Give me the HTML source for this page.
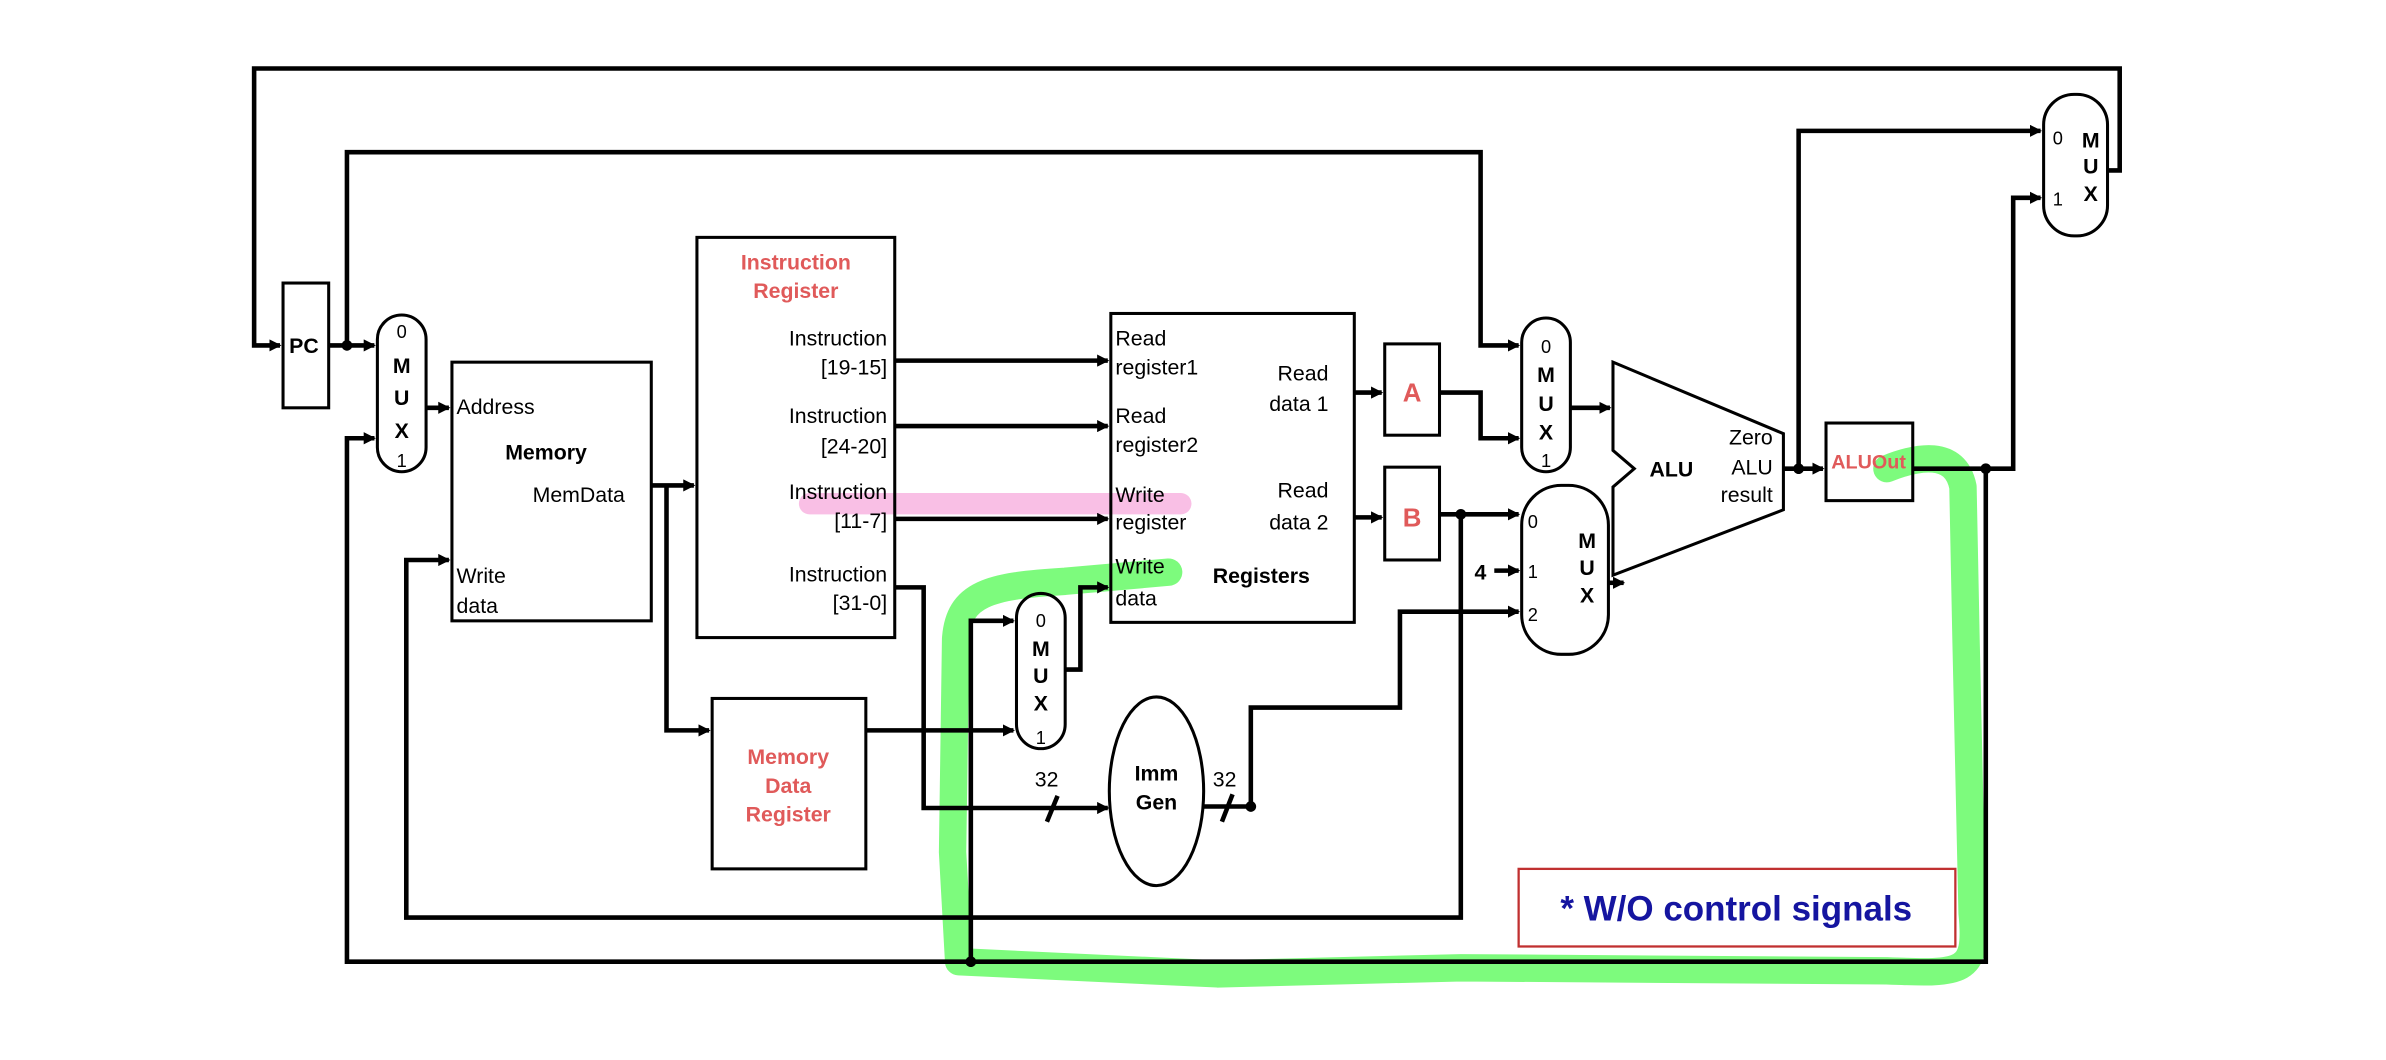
<!DOCTYPE html>
<html><head><meta charset="utf-8"><style>
html,body{margin:0;padding:0;background:#fff;}
svg{display:block}
text{font-family:"Liberation Sans",sans-serif;fill:#000}
.b{font-weight:bold}
.r{fill:#e05a5a;font-weight:bold}
</style></head><body>
<svg width="2386" height="1060" viewBox="0 0 1568 696.6" font-size="14" xmlns="http://www.w3.org/2000/svg">
<defs><marker id="a" markerWidth="8" markerHeight="8" refX="7" refY="4" orient="auto" markerUnits="userSpaceOnUse"><path d="M0,0 L8,4 L0,8z" fill="#000"/></marker></defs>
<!-- highlights -->
<path d="M532,331 L776,331" stroke="#f9bfe5" stroke-width="14" stroke-linecap="round" fill="none"/>
<path d="M1240,308 C1260,300 1285,295 1290,320 L1292,420 L1296,600 C1300,640 1290,640 1240,638 L960,636 L800,640 L630,632 L626,560 L628,420 C630,390 650,385 700,382 L768,376" stroke="#7dfb7d" stroke-width="18" stroke-linecap="round" stroke-linejoin="round" fill="none"/>
<g stroke="#000" stroke-width="3" fill="none">
<path d="M1385,112 L1393,112 L1393,45 L167,45 L167,227 L184,227" marker-end="url(#a)"/>
<rect x="186" y="186" width="30" height="82" stroke-width="2"/>
<path d="M216,227 L246,227" marker-end="url(#a)"/>
<path d="M228,227 L228,100 L973,100 L973,227 L998,227" marker-end="url(#a)"/>
<path d="M246,288 L228,288 L228,632 L1305,632 L1305,308" />
<path d="M228,288 L246,288" marker-end="url(#a)"/>
<rect x="248" y="207" width="32" height="103" rx="16" stroke-width="2"/>
<path d="M280,268 L295,268" marker-end="url(#a)"/>
<rect x="297" y="238" width="131" height="170" stroke-width="2"/>
<path d="M960,338 L960,603 L267,603 L267,368 L295,368" marker-end="url(#a)"/>
<path d="M428,319 L456,319" marker-end="url(#a)"/>
<path d="M438,319 L438,480 L466,480" marker-end="url(#a)"/>
<rect x="458" y="156" width="130" height="263" stroke-width="2"/>
<path d="M588,237 L728,237" marker-end="url(#a)"/>
<path d="M588,280 L728,280" marker-end="url(#a)"/>
<path d="M588,341 L728,341" marker-end="url(#a)"/>
<path d="M588,386 L607,386 L607,531 L728,531" marker-end="url(#a)"/>
<path d="M688,540 L695,523"/>
<rect x="468" y="459" width="101" height="112" stroke-width="2"/>
<path d="M569,480 L666,480" marker-end="url(#a)"/>
<path d="M638,632 L638,408 L666,408" marker-end="url(#a)"/>
<rect x="668" y="390" width="32" height="102" rx="16" stroke-width="2"/>
<path d="M700,440 L710,440 L710,386 L728,386" marker-end="url(#a)"/>
<rect x="730" y="206" width="160" height="203" stroke-width="2"/>
<ellipse cx="760" cy="520" rx="31" ry="62" stroke-width="2"/>
<path d="M791,530 L822,530 L822,465 L920,465 L920,402 L998,402" marker-end="url(#a)"/>
<path d="M803,540 L810,522"/>
<path d="M890,258 L908,258" marker-end="url(#a)"/>
<rect x="910" y="226" width="36" height="60" stroke-width="2"/>
<path d="M946,258 L973,258 L973,288 L998,288" marker-end="url(#a)"/>
<path d="M890,340 L908,340" marker-end="url(#a)"/>
<rect x="910" y="307" width="36" height="61" stroke-width="2"/>
<path d="M946,338 L998,338" marker-end="url(#a)"/>
<path d="M982,375 L998,375" marker-end="url(#a)"/>
<rect x="1000" y="209" width="32" height="101" rx="16" stroke-width="2"/>
<rect x="1000" y="319" width="57" height="111" rx="26" stroke-width="2"/>
<path d="M1032,268 L1058,268" marker-end="url(#a)"/>
<path d="M1057,383 L1067,383" marker-end="url(#a)"/>
<path d="M1060,238 L1172,285 L1172,335 L1060,378 L1060,320 L1074,308 L1060,296 Z" stroke-width="2"/>
<path d="M1172,308 L1198,308" marker-end="url(#a)"/>
<path d="M1182,308 L1182,86 L1341,86" marker-end="url(#a)"/>
<rect x="1200" y="278" width="57" height="51" stroke-width="2"/>
<path d="M1257,308 L1323,308 L1323,130 L1341,130" marker-end="url(#a)"/>
<rect x="1343" y="62" width="42" height="93" rx="20" stroke-width="2"/>
</g>
<g fill="#000">
<circle cx="228" cy="227" r="3.5"/><circle cx="960" cy="338" r="3.5"/><circle cx="638" cy="632" r="3.5"/>
<circle cx="822" cy="530" r="3.5"/><circle cx="1182" cy="308" r="3.5"/><circle cx="1305" cy="308" r="3.5"/>
</g>
<text x="190" y="232" class="b">PC</text>
<text x="264" y="222" text-anchor="middle" font-size="12">0</text>
<text x="264" y="245" text-anchor="middle" class="b">M</text>
<text x="264" y="266" text-anchor="middle" class="b">U</text>
<text x="264" y="288" text-anchor="middle" class="b">X</text>
<text x="264" y="307" text-anchor="middle" font-size="12">1</text>
<text x="300" y="272">Address</text>
<text x="332" y="302" class="b">Memory</text>
<text x="350" y="330">MemData</text>
<text x="300" y="383">Write</text>
<text x="300" y="403">data</text>
<text x="523" y="177" text-anchor="middle" class="r">Instruction</text>
<text x="523" y="196" text-anchor="middle" class="r">Register</text>
<g text-anchor="end">
<text x="583" y="227">Instruction</text><text x="583" y="246">[19-15]</text>
<text x="583" y="278">Instruction</text><text x="583" y="298">[24-20]</text>
<text x="583" y="328">Instruction</text><text x="583" y="347">[11-7]</text>
<text x="583" y="382">Instruction</text><text x="583" y="401">[31-0]</text>
</g>
<text x="518" y="502" text-anchor="middle" class="r">Memory</text>
<text x="518" y="521" text-anchor="middle" class="r">Data</text>
<text x="518" y="540" text-anchor="middle" class="r">Register</text>
<text x="684" y="412" text-anchor="middle" font-size="12">0</text>
<text x="684" y="431" text-anchor="middle" class="b">M</text>
<text x="684" y="449" text-anchor="middle" class="b">U</text>
<text x="684" y="467" text-anchor="middle" class="b">X</text>
<text x="684" y="489" text-anchor="middle" font-size="12">1</text>
<text x="680" y="517">32</text>
<text x="797" y="517">32</text>
<text x="760" y="513" text-anchor="middle" class="b">Imm</text>
<text x="760" y="532" text-anchor="middle" class="b">Gen</text>
<text x="733" y="227">Read</text><text x="733" y="246">register1</text>
<text x="733" y="278">Read</text><text x="733" y="297">register2</text>
<text x="733" y="330">Write</text><text x="733" y="348">register</text>
<text x="733" y="377">Write</text><text x="733" y="398">data</text>
<text x="873" y="250" text-anchor="end">Read</text><text x="873" y="270" text-anchor="end">data 1</text>
<text x="873" y="327" text-anchor="end">Read</text><text x="873" y="348" text-anchor="end">data 2</text>
<text x="797" y="383" class="b">Registers</text>
<text x="928" y="264" text-anchor="middle" class="r" font-size="17">A</text>
<text x="928" y="346" text-anchor="middle" class="r" font-size="17">B</text>
<text x="1016" y="232" text-anchor="middle" font-size="12">0</text>
<text x="1016" y="251" text-anchor="middle" class="b">M</text>
<text x="1016" y="270" text-anchor="middle" class="b">U</text>
<text x="1016" y="289" text-anchor="middle" class="b">X</text>
<text x="1016" y="307" text-anchor="middle" font-size="12">1</text>
<text x="1004" y="347" font-size="12">0</text>
<text x="1004" y="380" font-size="12">1</text>
<text x="1004" y="408" font-size="12">2</text>
<text x="1043" y="360" text-anchor="middle" class="b">M</text>
<text x="1043" y="378" text-anchor="middle" class="b">U</text>
<text x="1043" y="396" text-anchor="middle" class="b">X</text>
<text x="969" y="381" class="b">4</text>
<text x="1084" y="313" class="b">ALU</text>
<text x="1165" y="292" text-anchor="end">Zero</text>
<text x="1165" y="312" text-anchor="end">ALU</text>
<text x="1165" y="330" text-anchor="end">result</text>
<text x="1228" y="308" text-anchor="middle" class="r" font-size="13">ALUOut</text>
<text x="1349" y="95" font-size="12">0</text>
<text x="1349" y="135" font-size="12">1</text>
<text x="1374" y="97" text-anchor="middle" class="b">M</text>
<text x="1374" y="114" text-anchor="middle" class="b">U</text>
<text x="1374" y="132" text-anchor="middle" class="b">X</text>
<rect x="998" y="571" width="287" height="51" fill="none" stroke="#c03030" stroke-width="1.5"/>
<text x="1141" y="605" text-anchor="middle" font-size="23" font-weight="bold" style="fill:#1515a0">* W/O control signals</text>
</svg>
</body></html>
